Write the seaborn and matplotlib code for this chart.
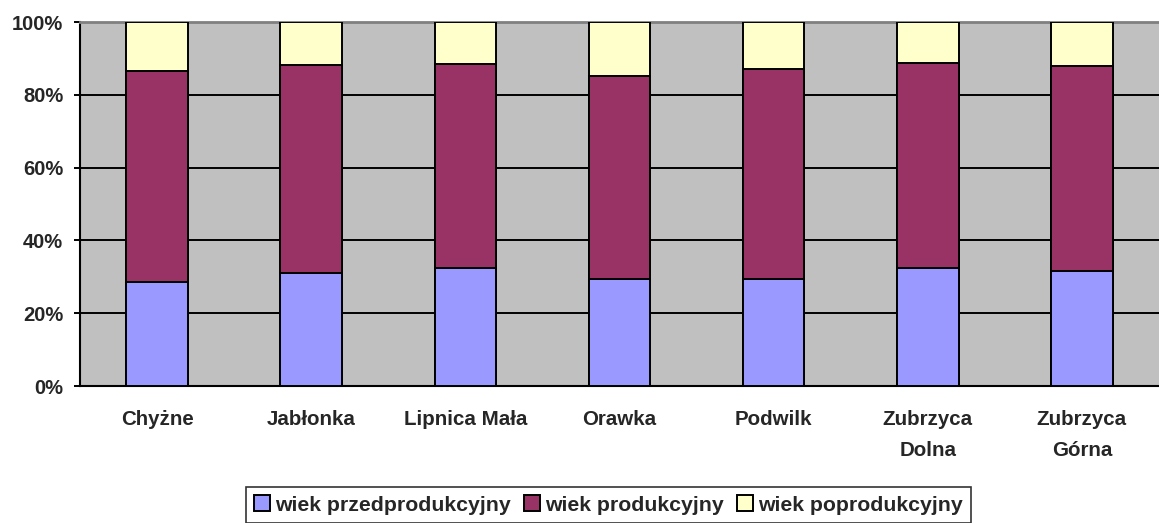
import matplotlib
matplotlib.use("Agg")
import matplotlib.pyplot as plt
import seaborn as sns
import pandas as pd
from matplotlib.ticker import PercentFormatter, FixedLocator

sns.set_theme(style="white")
plt.rcParams['font.family'] = ['Liberation Sans', 'DejaVu Sans']

# udział grup wiekowych (%) w gminach
gminy = ["Chyżne", "Jabłonka", "Lipnica Mała", "Orawka", "Podwilk",
         "Zubrzyca\nDolna", "Zubrzyca\nGórna"]
przed = [28.6, 31.0, 32.3, 29.4, 29.4, 32.3, 31.7]
prod = [57.9, 57.3, 56.1, 55.8, 57.7, 56.4, 56.1]
po = [13.5, 11.7, 11.6, 14.8, 12.9, 11.3, 12.2]
serie = ["wiek przedprodukcyjny", "wiek produkcyjny", "wiek poprodukcyjny"]
kolory = ["#9999FF", "#993366", "#FFFFCC"]

df = pd.DataFrame({"gmina": gminy, "przed": przed, "prod": prod, "po": po})
df["c1"] = df["przed"]
df["c2"] = df["przed"] + df["prod"]
df["c3"] = df["c2"] + df["po"]

fig = plt.figure(figsize=(11.59, 5.23), dpi=100)
ax = fig.add_axes([80 / 1159, 137 / 523, 1079 / 1159, 364 / 523])
ax.set_facecolor("#C0C0C0")

# stacked bars drawn as overlapping cumulative totals
for col, c, lab in zip(["c3", "c2", "c1"], kolory[::-1], serie[::-1]):
    sns.barplot(data=df, x="gmina", y=col, color=c, saturation=1, width=0.4,
                edgecolor="black", linewidth=1.4, ax=ax, label=lab, zorder=3)

ax.set_xlim(-0.5, len(gminy) - 0.5)
ax.set_ylim(0, 100)
ax.set_xlabel("")
ax.set_ylabel("")
ax.yaxis.set_major_locator(FixedLocator([0, 20, 40, 60, 80, 100]))
ax.yaxis.set_major_formatter(PercentFormatter(decimals=0))
ax.yaxis.grid(True, color="black", linewidth=1.4)
ax.xaxis.grid(False)
ax.set_axisbelow(True)

ax.xaxis.set_minor_locator(FixedLocator([i - 0.5 for i in range(len(gminy) + 1)]))
ax.tick_params(axis="x", which="major", length=0, pad=17, labelsize=14.8)
ax.tick_params(axis="x", which="minor", length=4.5, width=1.4, color="black", direction="out")
ax.tick_params(axis="y", which="major", length=4, width=1.4, color="black",
               direction="out", pad=8, labelsize=14.5, left=True)
for t in ax.get_xticklabels() + ax.get_yticklabels():
    t.set_fontweight("bold")
for t in ax.get_xticklabels():
    t.set_linespacing(1.8)

for s in ["left", "bottom"]:
    ax.spines[s].set_color("black")
    ax.spines[s].set_linewidth(1.5)
ax.spines["top"].set_color("#808080")
ax.spines["top"].set_linewidth(2)
ax.spines["right"].set_visible(False)

handles = ax.containers[::-1]
leg = ax.legend(handles, serie, loc="upper center", bbox_to_anchor=(0.525, 0.069),
                bbox_transform=fig.transFigure, borderaxespad=0, ncol=3,
                frameon=True, fancybox=False, edgecolor="black",
                handlelength=0.75, handleheight=0.75, handletextpad=0.25,
                columnspacing=0.6, borderpad=0.4,
                prop={"size": 15.3, "weight": "bold"})
leg.get_frame().set_linewidth(1.2)

fig.savefig("out.png", dpi=100, facecolor="white")
